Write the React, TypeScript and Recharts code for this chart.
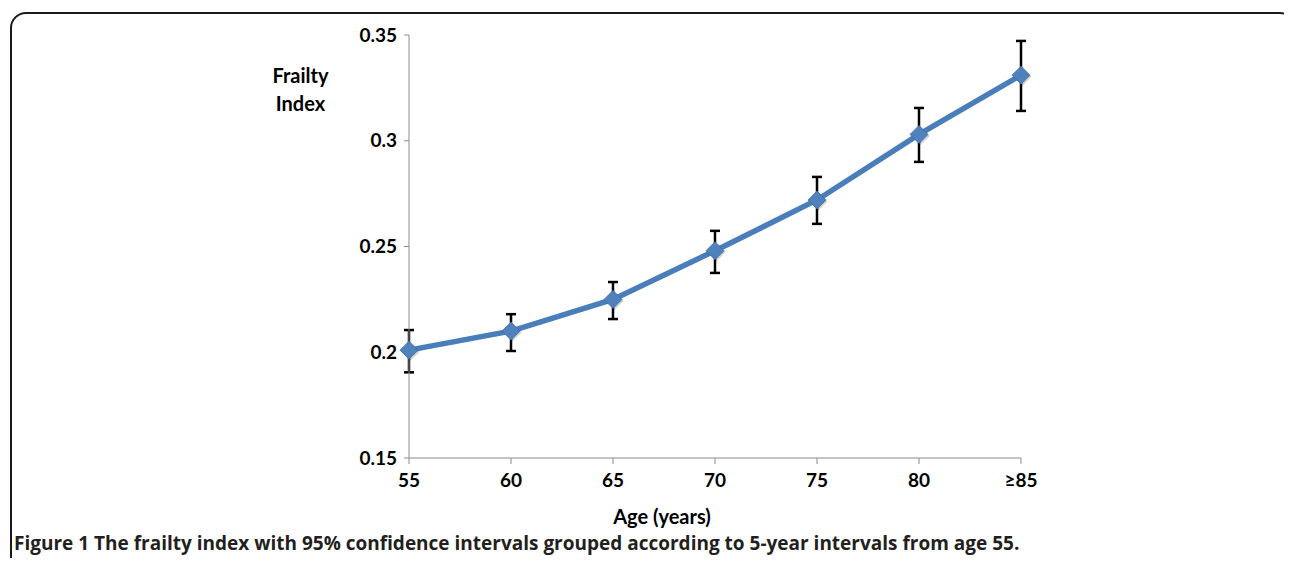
import React from "react";
import { LineChart, Line, XAxis, YAxis, ErrorBar } from "recharts";

const ageGroups = ["55", "60", "65", "70", "75", "80", "≥85"];
const frailtyIndex = [0.201, 0.210, 0.225, 0.248, 0.272, 0.303, 0.331];
const ciLower = [0.1905, 0.2006, 0.2157, 0.2375, 0.2607, 0.2900, 0.3141];
const ciUpper = [0.2105, 0.2180, 0.2332, 0.2574, 0.2829, 0.3155, 0.3472];
const yTicks = [0.15, 0.2, 0.25, 0.3, 0.35];

const data = ageGroups.map((age, i) => ({
  age,
  fi: frailtyIndex[i],
  err: [frailtyIndex[i] - ciLower[i], ciUpper[i] - frailtyIndex[i]],
}));

const FONT = "Lato, 'Open Sans', sans-serif";

const Diamond = (props: any) => {
  const { cx, cy } = props;
  if (cx == null || cy == null) return null;
  const r = 9;
  return (
    <g>
      <path
        d={`M${cx + 1.5},${cy - r + 1.5} L${cx + r + 1.5},${cy + 1.5} L${cx + 1.5},${cy + r + 1.5} L${cx - r + 1.5},${cy + 1.5} Z`}
        fill="#000"
        opacity={0.18}
      />
      <path
        d={`M${cx},${cy - r} L${cx + r},${cy} L${cx},${cy + r} L${cx - r},${cy} Z`}
        fill="#4f81bd"
        stroke="#3f6fa8"
        strokeWidth={0.8}
      />
    </g>
  );
};

export default function App() {
  const W = 1276;
  const H = 520;
  return (
    <div style={{ position: "relative", width: W, height: 550, fontFamily: FONT }}>
      <div
        style={{
          position: "absolute",
          left: 2,
          top: 4,
          width: 1286,
          height: 600,
          border: "2px solid #1a1a1a",
          borderRadius: 16,
          boxSizing: "border-box",
        }}
      />
      <div style={{ position: "absolute", left: 0, top: 0 }}>
        <LineChart
          width={W}
          height={H}
          data={data}
          margin={{ top: 27, right: 263, bottom: 38, left: 341 }}
        >
          <XAxis
            dataKey="age"
            tickLine={{ stroke: "#8c8c8c" }}
            axisLine={{ stroke: "#8c8c8c", strokeWidth: 1 }}
            tickSize={6}
            tickMargin={10}
            height={32}
            tick={{ fill: "#000", fontSize: 19, fontWeight: 700, fontFamily: FONT }}
            interval={0}
          />
          <YAxis
            type="number"
            domain={[0.15, 0.35]}
            ticks={yTicks}
            tickLine={{ stroke: "#8c8c8c" }}
            axisLine={{ stroke: "#8c8c8c", strokeWidth: 1 }}
            tickSize={5}
            tickMargin={7}
            width={60}
            tickFormatter={(v: number) => String(v)}
            tick={{ fill: "#000", fontSize: 19, fontWeight: 700, fontFamily: FONT }}
          />
          <Line
            dataKey="fi"
            stroke="#4a7ebb"
            strokeWidth={5.5}
            dot={<Diamond />}
            activeDot={false}
            isAnimationActive={false}
          >
            <ErrorBar dataKey="err" direction="y" width={5} stroke="#000" strokeWidth={2.5} />
          </Line>
        </LineChart>
      </div>
      <div
        style={{
          position: "absolute",
          left: 240,
          top: 53,
          width: 105,
          textAlign: "center",
          fontWeight: 700,
          fontSize: 20,
          lineHeight: "28px",
          color: "#000",
        }}
      >
        Frailty
        <br />
        Index
      </div>
      <div
        style={{
          position: "absolute",
          left: 554,
          top: 496,
          width: 200,
          textAlign: "center",
          fontWeight: 700,
          fontSize: 20,
          color: "#000",
        }}
      >
        Age (years)
      </div>
      <div
        style={{
          position: "absolute",
          left: 6,
          top: 522,
          whiteSpace: "nowrap",
          fontFamily: "'Open Sans', sans-serif",
          fontWeight: 700,
          fontSize: 19,
          color: "#231f20",
        }}
      >
        Figure 1 The frailty index with 95% confidence intervals grouped according to 5-year intervals from age 55.
      </div>
    </div>
  );
}
